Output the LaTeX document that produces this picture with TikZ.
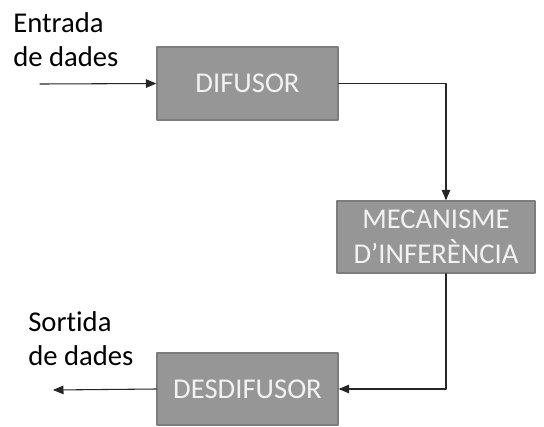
\documentclass[tikz,border=0pt]{standalone}
\usepackage{fontspec}
\setmainfont{Carlito}[Ligatures=NoCommon]
\usetikzlibrary{arrows}

\definecolor{boxgray}{RGB}{150,150,150}
\definecolor{boxedge}{RGB}{125,125,125}

\begin{document}
\begin{tikzpicture}[x=0.75pt, y=-0.75pt, line cap = round, line join = round, >=triangle 45]
\tikzstyle{bloc}=[fill=boxgray, draw=boxedge, line width=1.1pt, text=white!95!black, inner sep=0pt, align=center, font=\fontsize{21.5}{26}\selectfont]
\tikzstyle{etiqueta}=[inner sep=0pt, align=left, anchor=base west, font=\fontsize{21.5}{25}\selectfont]
\tikzstyle{fletxa}=[->, line width=0.8pt, color=black!85]
\useasboundingbox (0,0) rectangle (544,426);

% blocs del sistema
\node[bloc, minimum width=135.75pt, minimum height=54.75pt] (difusor) at (247.5,83.5) {DIFUSOR};
\node[bloc, minimum width=148.5pt, minimum height=54pt] (mecanisme) at (436,237) {MECANISME\\D’INFERÈNCIA};
\node[bloc, minimum width=135.75pt, minimum height=54pt] (desdifusor) at (247.5,389) {DESDIFUSOR};

% entrada i sortida (la base es la de l'ultima linia)
\node[etiqueta] (lentrada) at (13,66) {Entrada\\de dades};
\node[etiqueta] (lsortida) at (28,365) {Sortida\\de dades};
\coordinate (entrada) at (40,84);
\coordinate (sortida) at (53,390);

\draw[fletxa] (entrada) -- (difusor.west);
\draw[fletxa] (difusor.east) -| ([xshift=7.5pt]mecanisme.north);
\draw[fletxa] ([xshift=7.5pt]mecanisme.south) |- (desdifusor.east);
\draw[fletxa] (desdifusor.west) -- (sortida);
\end{tikzpicture}
\end{document}
